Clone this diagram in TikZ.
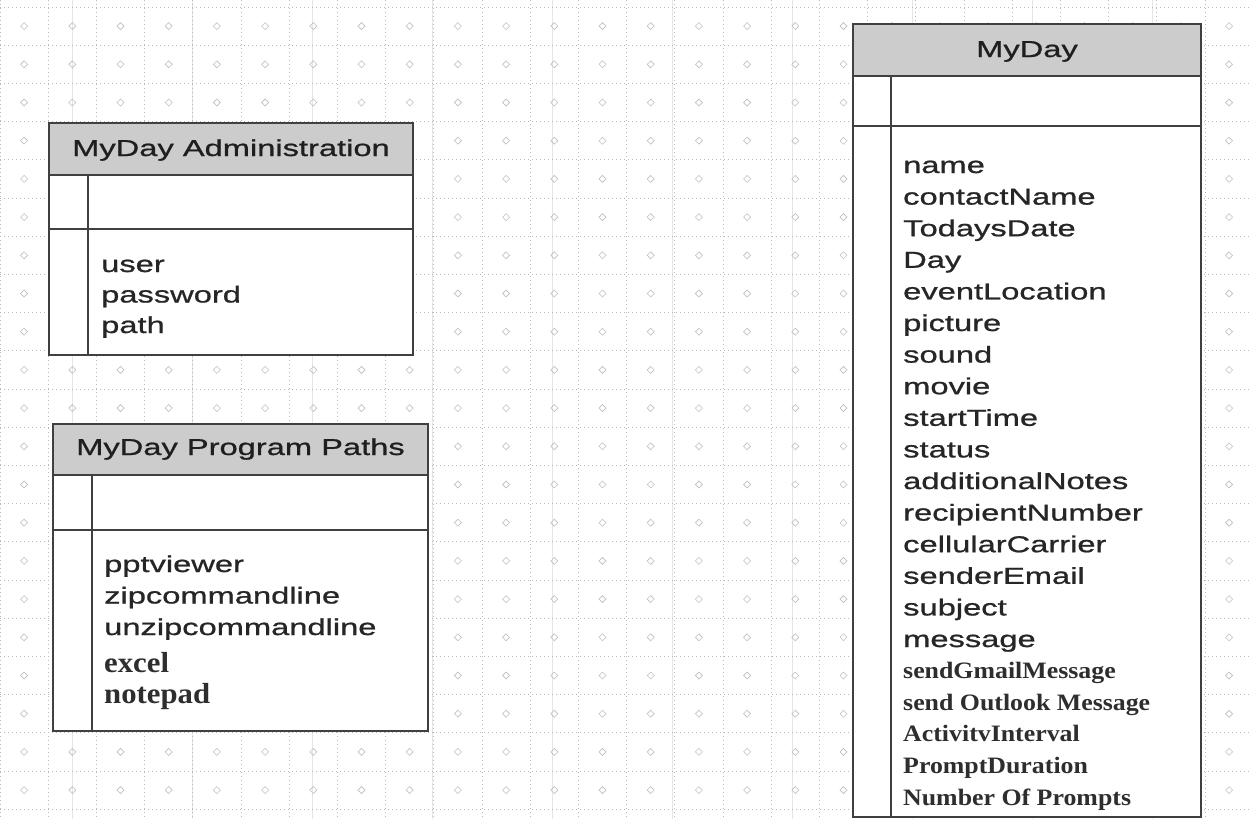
\documentclass[tikz,border=0pt]{standalone}
\usepackage{fontspec}
\newfontfamily\arialx[FakeStretch=1.42,FakeBold=0.9]{Liberation Sans}
\newfontfamily\timesx[FakeStretch=1.10]{Liberation Serif}
\newfontfamily\timesy[FakeStretch=1.06]{Liberation Serif}
\newcommand\classframe[7]{%
  \fill[white] (#1,#3) rectangle (#2,#6);
  \fill[hdrfill] (#1,#3) rectangle (#2,#4);
  \draw[boxline] (#1,#4) -- (#2,#4);
  \draw[boxline] (#1,#5) -- (#2,#5);
  \draw[boxline] (#7,#4) -- (#7,#6);
  \draw[boxline] (#1,#3) rectangle (#2,#6);
}
\begin{document}
\begin{tikzpicture}[x=1pt,y=-1pt,
  boxline/.style={draw=black!75, line width=2.6pt, line join=miter},
  hdrfill/.style={fill=black!20},
  gridline/.style={draw=black!28, line width=0.9pt, dash pattern=on 1.4pt off 2.6pt},
  gridsolid/.style={draw=black!10, line width=0.8pt},
  gridmark/.style={draw=black!25, line width=0.6pt},
  hdrtext/.style={anchor=base, inner sep=0pt, text=black!88, font=\arialx\fontsize{23}{23}\selectfont},
  sanslabel/.style={anchor=base west, inner sep=0pt, text=black!85, font=\arialx\fontsize{23}{23}\selectfont},
  seriflabel/.style={anchor=base west, inner sep=0pt, text=black!82, font=\timesx\bfseries\fontsize{23.5}{23.5}\selectfont},
  biglabel/.style={anchor=base west, inner sep=0pt, text=black!82, font=\timesy\bfseries\fontsize{29}{29}\selectfont}
]
\useasboundingbox (0,0) rectangle (1252,819);
\fill[white] (0,0) rectangle (1252,819);
% background grid
\foreach \i in {0,...,10} \draw[gridsolid] ({72+120*\i},0) -- ({72+120*\i},819);
\foreach \i in {0,...,26} \draw[gridline] ({48.2*\i},0) -- ({48.2*\i},819);
\foreach \j in {0,...,21} \draw[gridline] (0,{7+38.2*\j}) -- (1252,{7+38.2*\j});
\foreach \i in {0,...,25} \foreach \j in {0,...,21}
  \draw[gridmark] ({24.1+48.2*\i-3.5},{26.1+38.2*\j}) -- ({24.1+48.2*\i},{26.1+38.2*\j-3.5}) -- ({24.1+48.2*\i+3.5},{26.1+38.2*\j}) -- ({24.1+48.2*\i},{26.1+38.2*\j+3.5}) -- cycle;

% MyDay Administration
\classframe{49}{413}{123}{175}{229}{355}{88}
\node[hdrtext] (adminhdr) at (231,156) {MyDay Administration};
\node[sanslabel] (a1) at (101,272) {user};
\node[sanslabel] (a2) at (101,302.5) {password};
\node[sanslabel] (a3) at (101,333) {path};

% MyDay Program Paths
\classframe{53}{428}{424}{475}{530}{731}{92}
\node[hdrtext] (pathhdr) at (240.5,455) {MyDay Program Paths};
\node[sanslabel] (p1) at (104,572) {pptviewer};
\node[sanslabel] (p2) at (104,603.5) {zipcommandline};
\node[sanslabel] (p3) at (104,635) {unzipcommandline};
\node[biglabel] (p4) at (104,672) {excel};
\node[biglabel] (p5) at (104,703) {notepad};

% MyDay
\classframe{853}{1201}{24}{76}{126}{817}{891}
\node[hdrtext] (dayhdr) at (1027,57) {MyDay};
\foreach \t [count=\k from 0] in {name,contactName,TodaysDate,Day,eventLocation,picture,sound,movie,startTime,status,additionalNotes,recipientNumber,cellularCarrier,senderEmail,subject,message}
  \node[sanslabel] (d\k) at (903,{173+31.6*\k}) {\t};
\foreach \t [count=\k from 16] in {sendGmailMessage,send Outlook Message,ActivitvInterval,PromptDuration,Number Of Prompts}
  \node[seriflabel] (d\k) at (903,{173+31.6*\k}) {\t};
\end{tikzpicture}
\end{document}
